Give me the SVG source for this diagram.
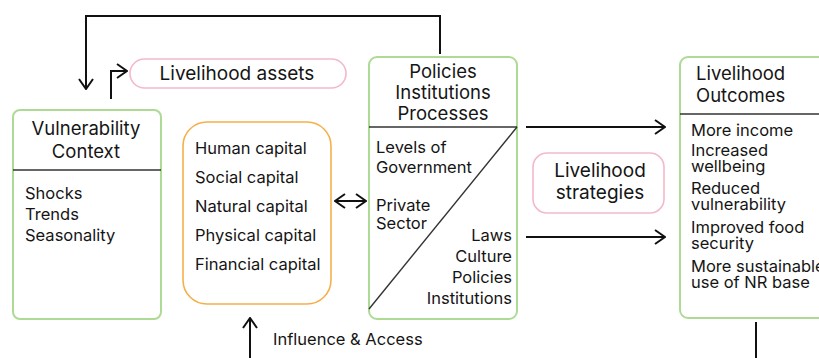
<svg xmlns="http://www.w3.org/2000/svg" width="819" height="358" viewBox="0 0 819 358">
  <style>
    text { font-family: "Inter", "Liberation Sans", sans-serif; fill: #151515; }
    .t19 { font-size: 19px; }
    .t18 { font-size: 18.5px; }
    .t16 { font-size: 16.5px; }
    .mid { text-anchor: middle; }
    .end { text-anchor: end; }
    .green { fill: #fff; stroke: #addb95; stroke-width: 2; }
    .orange { fill: #fff; stroke: #f5b04a; stroke-width: 1.6; }
    .pink { fill: #fff; stroke: #f4b9c9; stroke-width: 1.6; }
    .rule { stroke: #333; stroke-width: 1.4; fill: none; }
    .conn { stroke: #111; stroke-width: 2; fill: none; }
  </style>
  <defs>
    <marker id="chev" viewBox="0 0 12 16" refX="11" refY="8" markerWidth="12" markerHeight="16" markerUnits="userSpaceOnUse" orient="auto-start-reverse">
      <path d="M1,1 L11,8 L1,15" fill="none" stroke="#111" stroke-width="2"/>
    </marker>
  </defs>
  <rect width="819" height="358" fill="#fff"/>

  <g id="connectors">
    <!-- feedback loop from policies back to vulnerability context -->
    <path class="conn" d="M440,54 V16 H86 V89" marker-end="url(#chev)"/>
    <!-- vulnerability context to assets label -->
    <path class="conn" d="M111,99 V71 H127" marker-end="url(#chev)"/>
    <!-- assets <-> policies -->
    <path class="conn" d="M335,201 H366" marker-start="url(#chev)" marker-end="url(#chev)"/>
    <!-- policies to outcomes -->
    <path class="conn" d="M526,127 H665" marker-end="url(#chev)"/>
    <path class="conn" d="M526,237 H665" marker-end="url(#chev)"/>
    <!-- influence & access -->
    <path class="conn" d="M250,358 V318" marker-end="url(#chev)"/>
    <!-- outcomes feed down -->
    <path class="conn" d="M756,322 V358"/>
  </g>

  <g id="livelihood-assets">
    <rect class="pink" x="130" y="59" width="216" height="29" rx="14.5"/>
    <text class="t19 mid" x="237" y="80">Livelihood assets</text>
  </g>

  <g id="vulnerability-context">
    <rect class="green" x="13" y="110" width="148" height="209" rx="7"/>
    <line class="rule" x1="13" y1="170" x2="161" y2="170"/>
    <text class="t18 mid" x="86" y="135">Vulnerability</text>
    <text class="t18 mid" x="86" y="158">Context</text>
    <text class="t16" x="25" y="199">Shocks</text>
    <text class="t16" x="25" y="220">Trends</text>
    <text class="t16" x="25" y="241">Seasonality</text>
  </g>

  <g id="capitals">
    <rect class="orange" x="183" y="122" width="148" height="182" rx="24"/>
    <text class="t16" x="195" y="154">Human capital</text>
    <text class="t16" x="195" y="183">Social capital</text>
    <text class="t16" x="195" y="212">Natural capital</text>
    <text class="t16" x="195" y="241">Physical capital</text>
    <text class="t16" x="195" y="270">Financial capital</text>
  </g>

  <g id="policies-institutions">
    <rect class="green" x="369" y="57" width="148" height="262" rx="8"/>
    <line class="rule" x1="369" y1="127" x2="517" y2="127"/>
    <line class="rule" x1="517" y1="127" x2="369" y2="309" stroke-width="1.2"/>
    <text class="t18 mid" x="443" y="78">Policies</text>
    <text class="t18 mid" x="443" y="99">Institutions</text>
    <text class="t18 mid" x="443" y="120">Processes</text>
    <text class="t16" x="376" y="153">Levels of</text>
    <text class="t16" x="376" y="173">Government</text>
    <text class="t16" x="376" y="211">Private</text>
    <text class="t16" x="376" y="229">Sector</text>
    <text class="t16 end" x="512" y="241">Laws</text>
    <text class="t16 end" x="512" y="262">Culture</text>
    <text class="t16 end" x="512" y="283">Policies</text>
    <text class="t16 end" x="512" y="304">Institutions</text>
  </g>

  <g id="livelihood-strategies">
    <rect class="pink" x="533" y="153" width="131" height="60" rx="14"/>
    <text class="t19 mid" x="600" y="177">Livelihood</text>
    <text class="t19 mid" x="600" y="199">strategies</text>
  </g>

  <g id="livelihood-outcomes">
    <rect class="green" x="680" y="57" width="160" height="261" rx="8"/>
    <line class="rule" x1="680" y1="114" x2="819" y2="114"/>
    <text class="t18" x="696" y="80">Livelihood</text>
    <text class="t18" x="696" y="102">Outcomes</text>
    <text class="t16" x="691" y="136">More income</text>
    <text class="t16" x="691" y="156">Increased</text>
    <text class="t16" x="691" y="172">wellbeing</text>
    <text class="t16" x="691" y="194">Reduced</text>
    <text class="t16" x="691" y="210">vulnerability</text>
    <text class="t16" x="691" y="233">Improved food</text>
    <text class="t16" x="691" y="249">security</text>
    <text class="t16" x="691" y="272">More sustainable</text>
    <text class="t16" x="691" y="288">use of NR base</text>
  </g>

  <text class="t16" x="273" y="345">Influence &amp; Access</text>
</svg>
